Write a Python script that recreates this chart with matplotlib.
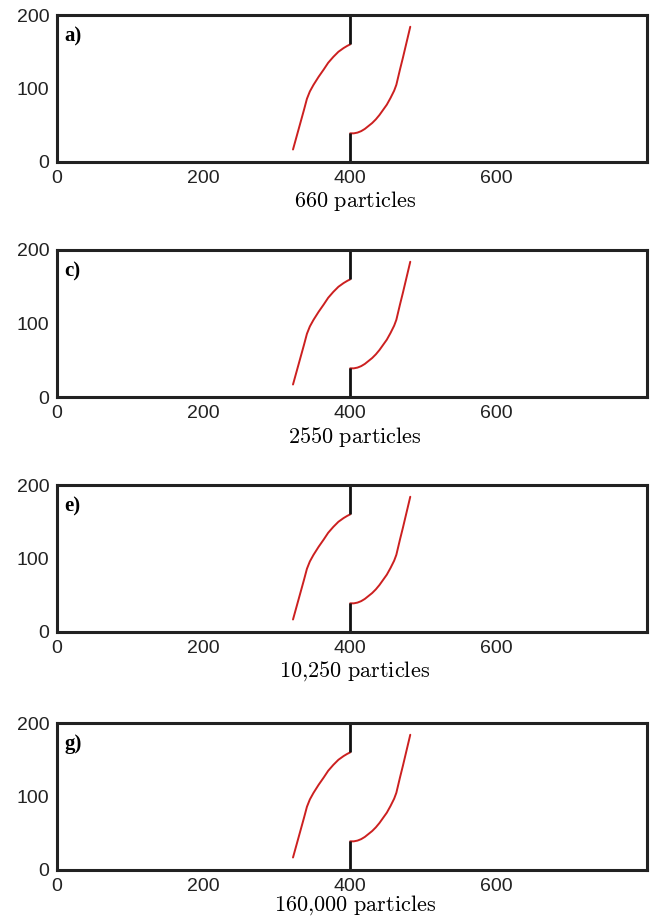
import matplotlib
matplotlib.use("Agg")
import matplotlib.pyplot as plt

# panel labels and captions
panel_tags = ['a)', 'c)', 'e)', 'g)']
captions = ['660 particles', '2550 particles', '10,250 particles', '160,000 particles']

# left interface curve (red)
left_x = [322, 327, 332, 337, 341, 345, 350, 357, 364, 370, 377, 384, 391, 396, 400]
left_y = [17, 35, 53, 71, 86, 96, 105, 116, 126, 135, 143, 150, 155, 158, 160]

# right interface curve (red)
right_x = [400, 405, 410, 415, 420, 425, 430, 435, 440, 445, 450, 455, 460, 463, 468, 472, 477, 482]
right_y = [39, 39, 40, 42, 45, 49, 53, 58, 64, 71, 78, 87, 97, 105, 126, 142, 163, 184]

# black wall segments at x = 400
wall_x = [400, 400]
wall_top = [160, 200]
wall_bottom = [0, 39]

x_ticks = [0, 200, 400, 600]
y_ticks = [0, 100, 200]

W, H = 653, 918
fig = plt.figure(figsize=(W / 100, H / 100), dpi=100)

tops = [15, 250, 485, 723]
cap_gap = [45, 46, 45, 41]   # px from axis bottom to caption baseline
ax_h = 147
left, right = 57, 647

for tag, cap, top, gap in zip(panel_tags, captions, tops, cap_gap):
    ax = fig.add_axes([left / W, 1 - (top + ax_h) / H, (right - left) / W, ax_h / H])
    ax.plot(left_x, left_y, color='#cc2020', lw=1.4, solid_capstyle='round')
    ax.plot(right_x, right_y, color='#cc2020', lw=1.4, solid_capstyle='round')
    ax.vlines(wall_x[0], wall_top[0], wall_top[1], color='#111111', lw=2)
    ax.vlines(wall_x[1], wall_bottom[0], wall_bottom[1], color='#111111', lw=2)
    ax.set_xlim(0, 805)
    ax.set_ylim(0, 200)
    ax.set_xticks(x_ticks)
    ax.set_yticks(y_ticks)
    ax.tick_params(length=0, labelsize=14, colors='#222222')
    ax.tick_params(axis='x', pad=5.5)
    ax.tick_params(axis='y', pad=5.5)
    for lab in ax.get_xticklabels() + ax.get_yticklabels():
        lab.set_fontfamily('Liberation Sans')
    for sp in ax.spines.values():
        sp.set_linewidth(2.2)
        sp.set_color('#222222')
    ax.text(0.012, 0.925, tag, transform=ax.transAxes, fontsize=15,
            fontweight='bold', family='Liberation Serif', va='top', ha='left')
    ax.text(0.505, -gap / ax_h, r'$\mathrm{' + cap.replace(' ', r'\ ').replace(',', r'{,}') + '}$',
            transform=ax.transAxes, fontsize=16, ha='center', va='baseline',
            math_fontfamily='cm')

fig.savefig('out.png', dpi=100)
